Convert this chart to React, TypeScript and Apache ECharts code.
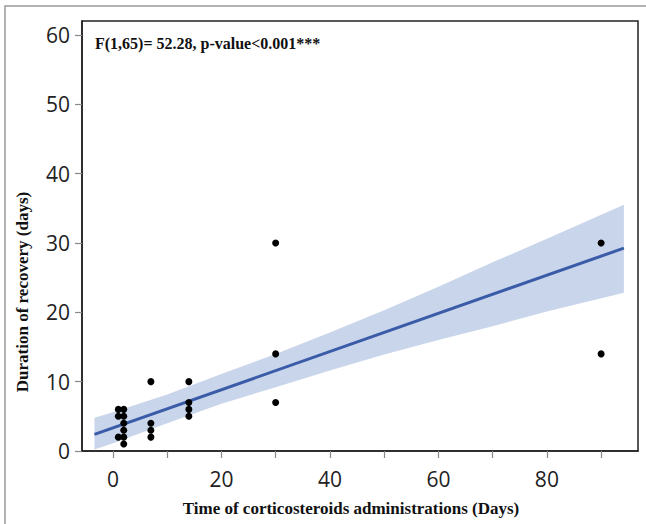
import React, { useEffect, useRef } from "react";
import * as echarts from "echarts";

const titleText = "F(1,65)= 52.28, p-value<0.001***";
const xName = "Time of corticosteroids administrations (Days)";
const yName = "Duration of recovery (days)";

const xTickValues = [0, 10, 20, 30, 40, 50, 60, 70, 80, 90];
const xLabelValues = [0, 20, 40, 60, 80];
const yTickValues = [0, 10, 20, 30, 40, 50, 60];

// observed points (x = days of corticosteroids, y = days to recovery)
const pointX = [1, 1, 1, 2, 2, 2, 2, 2, 2, 7, 7, 7, 7, 14, 14, 14, 14, 30, 30, 30, 90, 90];
const pointY = [6, 5, 2, 6, 5, 4, 3, 2, 1, 10, 4, 3, 2, 10, 7, 6, 5, 30, 14, 7, 30, 14];

// fitted regression line end points
const fitX = [-3.4, 94.2];
const fitY = [2.4, 29.25];

// confidence band
const bandX = [-3.4, 0, 10, 20, 30, 40, 50, 60, 70, 80, 94.2];
const bandLower = [0.2, 1.1, 4.0, 6.8, 9.2, 11.6, 13.9, 16.0, 18.0, 20.1, 22.8];
const bandUpper = [4.8, 5.6, 8.15, 11.1, 14.0, 17.1, 20.3, 23.7, 27.2, 30.6, 35.5];

export default function App() {
  const ref = useRef<HTMLDivElement>(null);
  useEffect(() => {
    if (!ref.current) return;
    const chart = echarts.init(ref.current, null, { renderer: "svg" });
    const bandData = bandX.map((x, i) => [x, bandLower[i], bandUpper[i]]);
    chart.setOption({
      animation: false,
      backgroundColor: "#fff",
      grid: {
        left: 82,
        right: 8,
        top: 21,
        bottom: 73,
        show: true,
        borderColor: "#222",
        borderWidth: 1.5,
        backgroundColor: "transparent",
      },
      title: {
        text: titleText,
        left: 90,
        top: 30,
        textStyle: { fontFamily: "Liberation Serif", fontWeight: "bold", fontSize: 16, color: "#111" },
      },
      xAxis: {
        type: "value",
        min: -5.7,
        max: 96.8,
        splitLine: { show: false },
        axisLine: { show: true, onZero: false, lineStyle: { color: "#222", width: 1.5 } },
        axisTick: { show: true, customValues: xTickValues, length: 7, lineStyle: { color: "#888", width: 1.2 } },
        axisLabel: {
          customValues: xLabelValues,
          margin: 17,
          fontFamily: "Open Sans",
          fontSize: 21,
          color: "#222",
        },
      },
      yAxis: {
        type: "value",
        min: 0,
        max: 62,
        splitLine: { show: false },
        axisLine: { show: true, onZero: false, lineStyle: { color: "#222", width: 1.5 } },
        axisTick: { show: true, customValues: yTickValues, length: 7, lineStyle: { color: "#888", width: 1.2 } },
        axisLabel: {
          customValues: yTickValues,
          margin: 12,
          fontFamily: "Open Sans",
          fontSize: 21,
          color: "#222",
        },
      },
      graphic: [
        {
          type: "rect",
          shape: { x: 5, y: 6, width: 700, height: 600 },
          style: { fill: "none", stroke: "#999", lineWidth: 1.5 },
          silent: true,
        },
        {
          type: "text",
          x: 351,
          y: 508,
          style: {
            text: xName,
            fontFamily: "Liberation Serif",
            fontWeight: "bold",
            fontSize: 17,
            fill: "#111",
            align: "center",
            verticalAlign: "middle",
          },
        },
        {
          type: "text",
          x: 22,
          y: 292,
          rotation: Math.PI / 2,
          style: {
            text: yName,
            fontFamily: "Liberation Serif",
            fontWeight: "bold",
            fontSize: 17,
            fill: "#111",
            align: "center",
            verticalAlign: "middle",
          },
        },
      ],
      series: [
        {
          type: "custom",
          z: 1,
          clip: true,
          data: bandData,
          encode: { x: 0, y: [1, 2] },
          renderItem: (params: any, api: any) => {
            if (params.dataIndex !== 0) return null;
            const upper = bandData.map((d) => api.coord([d[0], d[2]]));
            const lower = bandData.map((d) => api.coord([d[0], d[1]])).reverse();
            return {
              type: "polygon",
              shape: { points: upper.concat(lower) },
              style: { fill: "#c9d5ea" },
            };
          },
        },
        {
          type: "line",
          z: 2,
          data: fitX.map((x, i) => [x, fitY[i]]),
          symbol: "none",
          lineStyle: { color: "#3a5ca8", width: 3 },
          silent: true,
        },
        {
          type: "scatter",
          z: 3,
          data: pointX.map((x, i) => [x, pointY[i]]),
          symbolSize: 7,
          itemStyle: { color: "#000", opacity: 1 },
        },
      ],
    });
    return () => chart.dispose();
  }, []);
  return (
    <div
      ref={ref}
      style={{ position: "fixed", left: 0, top: 0, width: 646, height: 524, background: "#fff" }}
    />
  );
}
